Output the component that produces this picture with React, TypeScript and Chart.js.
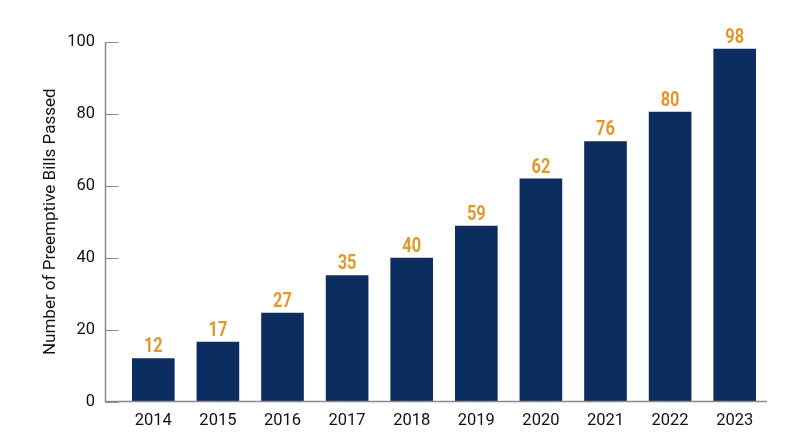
import { useEffect, useRef } from "react";
import { Chart, registerables } from "chart.js";

Chart.register(...registerables);

const years = ["2014", "2015", "2016", "2017", "2018", "2019", "2020", "2021", "2022", "2023"];
// bar heights as drawn in the picture
const billsPassed = [12, 16.6, 24.7, 35.1, 40, 48.9, 62, 72.4, 80.6, 98.1];
// numbers printed above each bar
const barLabels = ["12", "17", "27", "35", "40", "59", "62", "76", "80", "98"];
const yTicks = [0, 20, 40, 60, 80, 100];

const NAVY = "#0b2d5f";
const ORANGE = "#e0982a";
const AXIS = "#8a8a8a";

// y axis line sits left of the first category, ticks point inward
const axisPlugin = {
  id: "insideAxis",
  afterDraw(chart: Chart) {
    const { ctx, chartArea, scales } = chart;
    const y = scales.y;
    const axisX = chartArea.left - 15.5;
    ctx.save();
    ctx.strokeStyle = AXIS;
    ctx.lineWidth = 1.5;
    ctx.beginPath();
    ctx.moveTo(axisX, y.getPixelForValue(100));
    ctx.lineTo(axisX, chartArea.bottom);
    ctx.lineTo(chartArea.right, chartArea.bottom);
    ctx.stroke();
    ctx.lineWidth = 1;
    yTicks.forEach((t) => {
      const py = Math.round(y.getPixelForValue(t)) + 0.5;
      ctx.beginPath();
      ctx.moveTo(axisX, py);
      ctx.lineTo(axisX + 13, py);
      ctx.stroke();
    });
    ctx.restore();
  },
};

const labelPlugin = {
  id: "barValues",
  afterDatasetsDraw(chart: Chart) {
    const { ctx } = chart;
    const meta = chart.getDatasetMeta(0);
    ctx.save();
    ctx.fillStyle = ORANGE;
    ctx.font = "bold 20px Roboto";
    ctx.textAlign = "center";
    ctx.textBaseline = "alphabetic";
    meta.data.forEach((bar: any, i: number) => {
      ctx.save();
      ctx.translate(bar.x, bar.y - 6);
      ctx.scale(0.82, 1);
      ctx.fillText(barLabels[i], 0, 0);
      ctx.restore();
    });
    ctx.restore();
  },
};

export default function App() {
  const canvasRef = useRef<HTMLCanvasElement>(null);
  const chartRef = useRef<Chart | null>(null);

  useEffect(() => {
    if (!canvasRef.current) return;
    if (chartRef.current) chartRef.current.destroy();

    chartRef.current = new Chart(canvasRef.current, {
      type: "bar",
      data: {
        labels: years,
        datasets: [
          {
            data: billsPassed,
            backgroundColor: NAVY,
            borderWidth: 0,
            barPercentage: 0.66,
            categoryPercentage: 1,
          },
        ],
      },
      options: {
        animation: false,
        responsive: true,
        maintainAspectRatio: false,
        layout: { padding: { top: 42, right: 33, left: 0, bottom: 0 } },
        plugins: {
          legend: { display: false },
          tooltip: { enabled: false },
        },
        scales: {
          x: {
            grid: { display: false, drawTicks: false },
            border: { display: false },
            ticks: {
              color: "#111",
              font: { family: "Roboto", size: 16.5 },
              padding: 9,
              maxRotation: 0,
            },
            afterFit(scale: any) {
              scale.height = 45.5;
            },
          },
          y: {
            min: 0,
            max: 100,
            afterBuildTicks(scale: any) {
              scale.ticks = yTicks.map((v) => ({ value: v }));
            },
            grid: { display: false, drawTicks: false },
            border: { display: false },
            ticks: {
              color: "#111",
              font: { family: "Roboto", size: 16.5 },
              padding: 26,
            },
            title: {
              display: true,
              text: "Number of Preemptive Bills Passed",
              color: "#111",
              font: { family: "Roboto", size: 17 },
              padding: { top: 41, bottom: 0 },
            },
            afterFit(scale: any) {
              scale.width = 121;
            },
          },
        },
      },
      plugins: [axisPlugin, labelPlugin],
    });

    return () => {
      if (chartRef.current) {
        chartRef.current.destroy();
        chartRef.current = null;
      }
    };
  }, []);

  return (
    <div style={{ position: "fixed", left: 0, top: 0, width: 800, height: 447, background: "#fff" }}>
      <canvas ref={canvasRef} />
    </div>
  );
}
